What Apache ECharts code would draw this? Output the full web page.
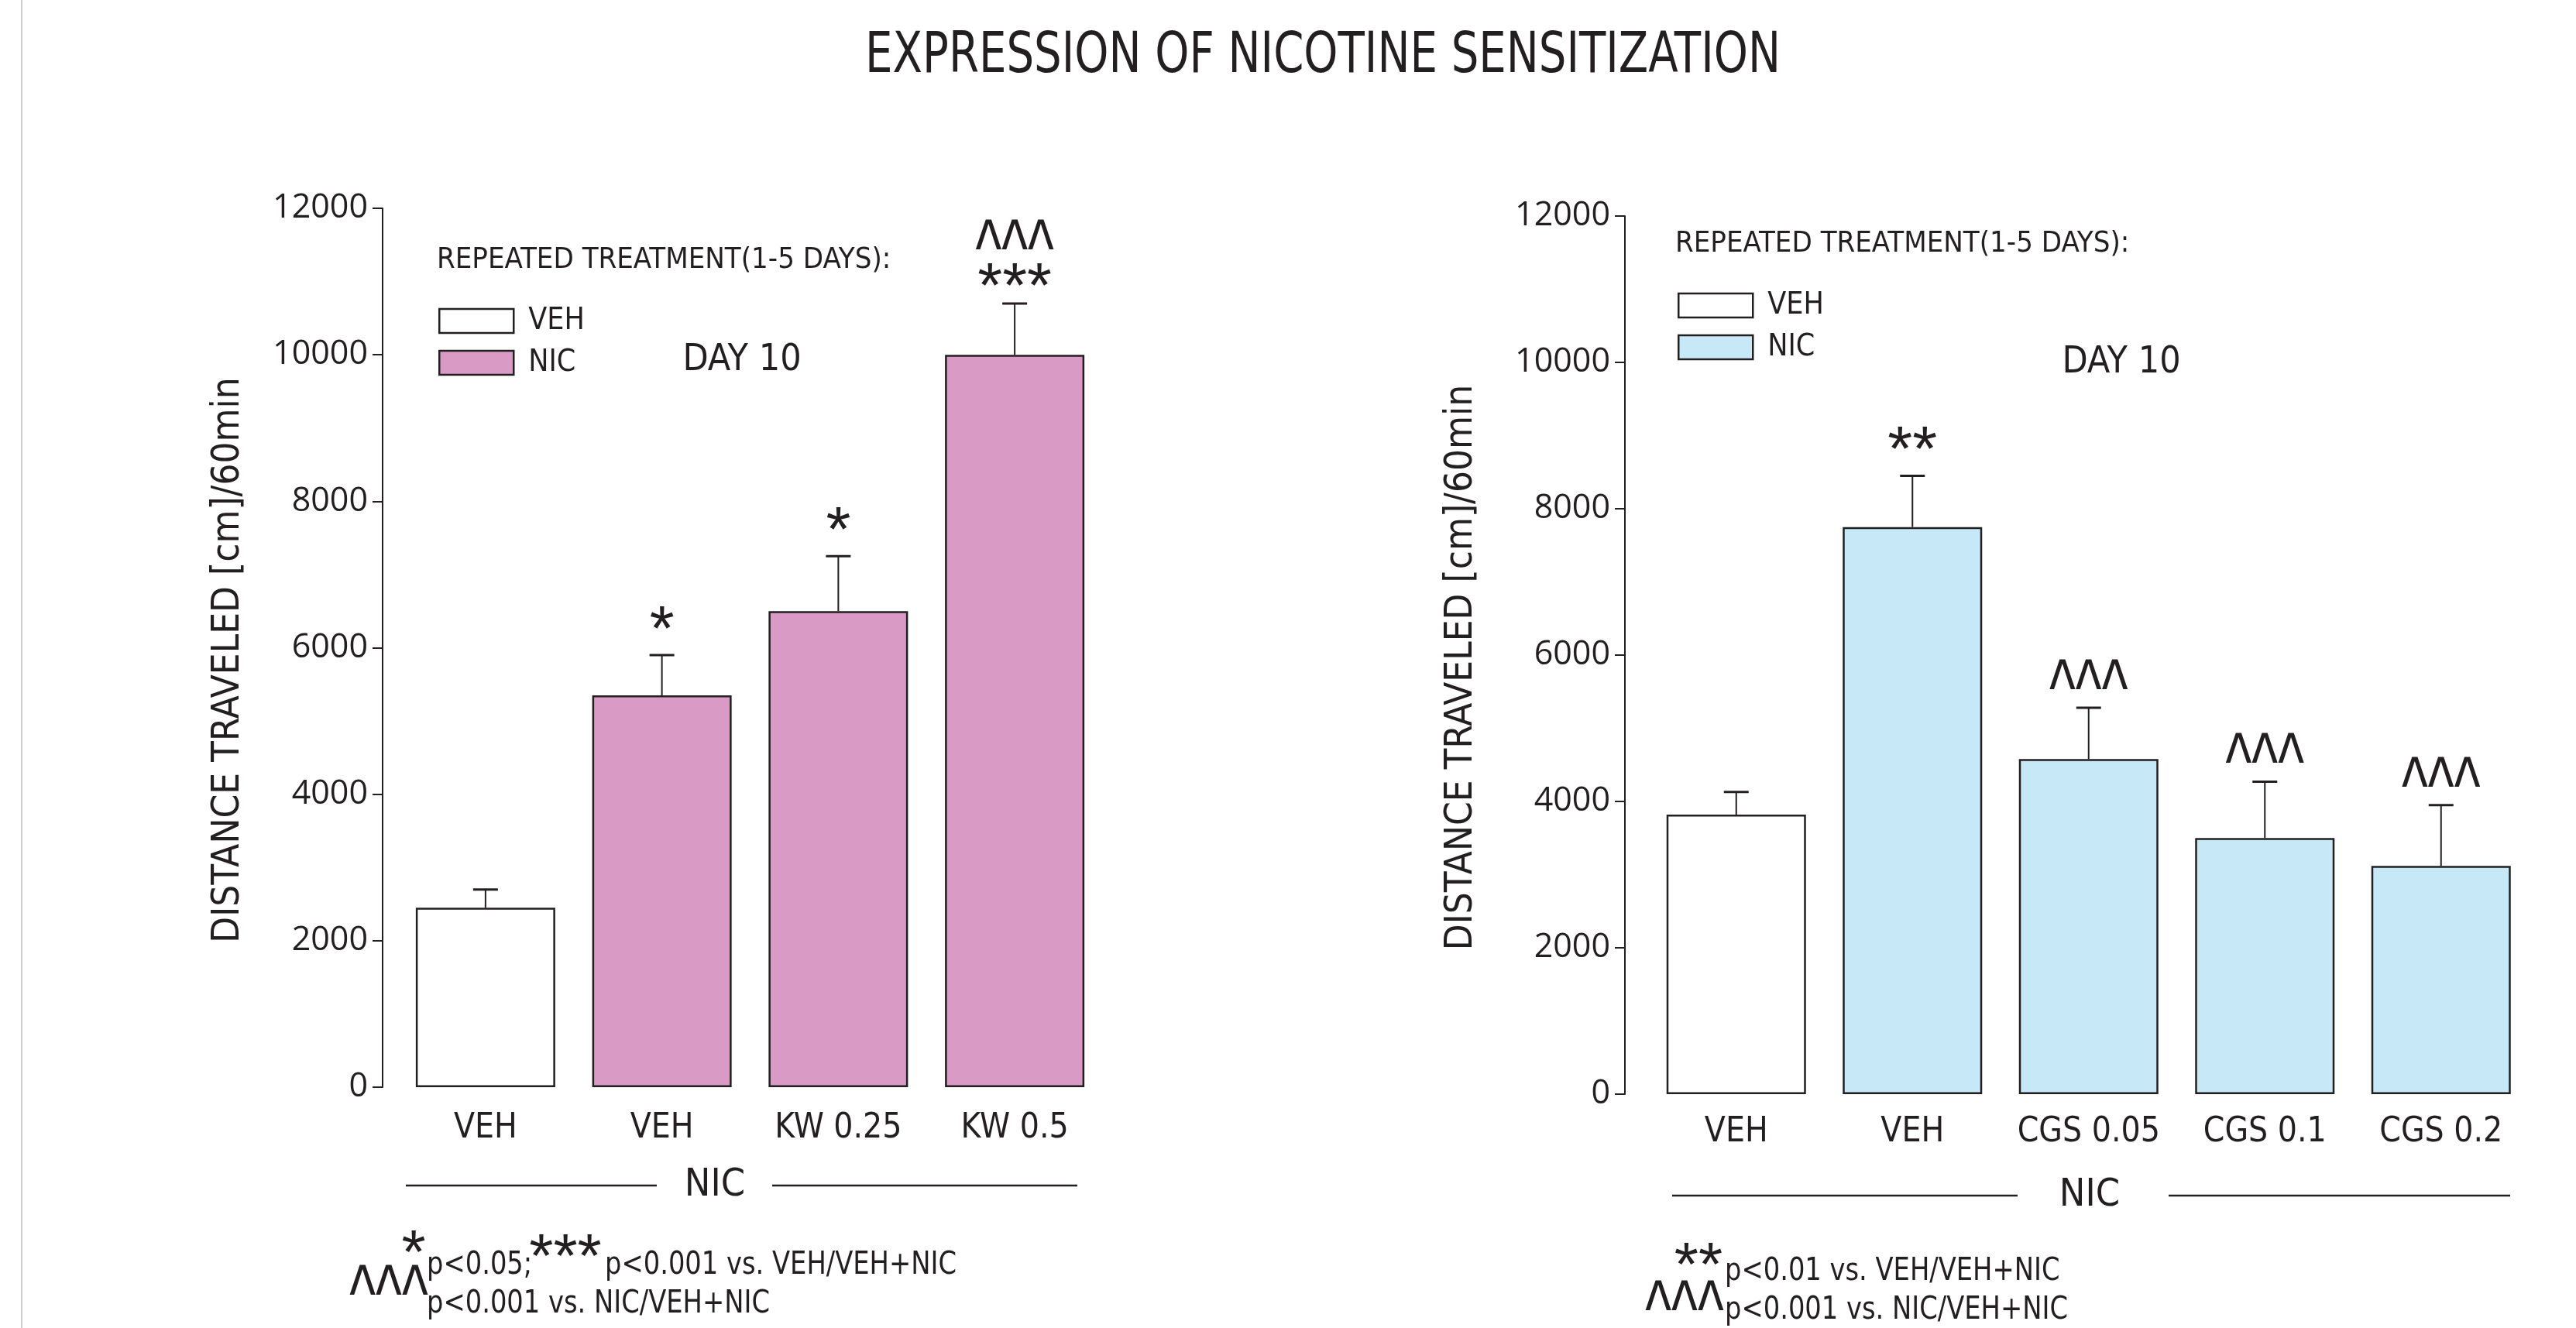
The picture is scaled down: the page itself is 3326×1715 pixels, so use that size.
<!DOCTYPE html>
<html>
<head>
<meta charset="utf-8">
<script src="https://cdn.jsdelivr.net/npm/echarts@6/dist/echarts.min.js"></script>
<style>
html,body{margin:0;padding:0;background:#fff;}
#chart{width:3326px;height:1715px;}
</style>
</head>
<body>
<div id="chart"></div>
<script>
// ---------- data ----------
const categoriesLeft = ['VEH', 'VEH', 'KW 0.25', 'KW 0.5'];
const pretreatLeft   = ['VEH', 'NIC', 'NIC', 'NIC'];
const meansLeft      = [2450, 5350, 6500, 10000];
const semLeft        = [250, 550, 750, 700];
const starsLeft      = ['', '*', '*', '***'];
const caretsLeft     = ['', '', '', '^^^'];

const categoriesRight = ['VEH', 'VEH', 'CGS 0.05', 'CGS 0.1', 'CGS 0.2'];
const pretreatRight   = ['VEH', 'NIC', 'NIC', 'NIC', 'NIC'];
const meansRight      = [3820, 7750, 4580, 3500, 3120];
const semRight        = [310, 700, 700, 770, 830];
const starsRight      = ['', '**', '', '', ''];
const caretsRight     = ['', '', '^^^', '^^^', '^^^'];

const yMin = 0, yMax = 12000, yInterval = 2000;
const yTitle = 'DISTANCE TRAVELED [cm]/60min';
const mainTitle = 'EXPRESSION OF NICOTINE SENSITIZATION';
const legendTitle = 'REPEATED TREATMENT(1-5 DAYS):';
const dayLabel = 'DAY 10';
const groupLabel = 'NIC';
const footLeft = ['*', 'p<0.05;', '***', 'p<0.001 vs. VEH/VEH+NIC', '^^^', 'p<0.001 vs. NIC/VEH+NIC'];
const footRight = ['**', 'p<0.01 vs. VEH/VEH+NIC', '^^^', 'p<0.001 vs. NIC/VEH+NIC'];

// ---------- style ----------
const INK = '#231f20';
const PINK = '#d99bc6';
const BLUE = '#c7e9f7';
const COND = "'DejaVu Sans Condensed','DejaVu Sans',sans-serif";
const REG = "'Open Sans','Noto Sans',sans-serif";
const STAR = "'Liberation Sans','DejaVu Sans',sans-serif";
const CARET_SIZE = 72, CARET_SY = 1.5;

const chart = echarts.init(document.getElementById('chart'), null, {renderer: 'canvas'});

function pick(means, groups, g) {
  return means.map((v, i) => groups[i] === g ? v : '-');
}

function starText(text, x, cy) {
  return {type: 'text', x: x, y: cy + 12, silent: true,
    style: {text: text, x: 0, y: 0, align: 'center', verticalAlign: 'middle', fontSize: 82, fontFamily: STAR, fill: INK}};
}
function caretText(text, x, cy) {
  return {type: 'text', x: x, y: cy + 19, scaleY: CARET_SY, silent: true,
    style: {text: text, x: 0, y: 0, align: 'center', verticalAlign: 'middle', fontSize: CARET_SIZE, fontFamily: STAR, fill: INK}};
}

function errRenderer(stars, carets) {
  return function (params, api) {
    const i = api.value(0), m = api.value(1), e = api.value(2);
    const p0 = api.coord([i, m]);
    const p1 = api.coord([i, m + e]);
    const x = p0[0];
    const children = [
      {type: 'line', shape: {x1: x, y1: p0[1], x2: x, y2: p1[1]}, style: {stroke: INK, lineWidth: 2}},
      {type: 'line', shape: {x1: x - 16, y1: p1[1], x2: x + 16, y2: p1[1]}, style: {stroke: INK, lineWidth: 3}}
    ];
    const s = stars[params.dataIndex], c = carets[params.dataIndex];
    const top = p1[1];
    let sc = null;
    if (s) {
      sc = c ? top - 31 : top - 42;
      children.push(starText(s, x, sc));
    }
    if (c) {
      children.push(caretText(c, x, sc !== null ? sc - 53 : top - 38));
    }
    return {type: 'group', children: children};
  };
}

function yAxisCfg(gridIndex, offset, nameGap) {
  return {
    type: 'value', gridIndex: gridIndex, min: yMin, max: yMax, interval: yInterval, offset: offset,
    name: yTitle, nameLocation: 'middle', nameGap: nameGap, nameRotate: 90,
    nameTextStyle: {fontFamily: COND, fontSize: 49, color: INK, padding: [0, 32, 0, 0]},
    axisLine: {show: true, lineStyle: {color: INK, width: 2}},
    axisTick: {show: true, length: 13, lineStyle: {color: INK, width: 2}},
    axisLabel: {fontFamily: REG, fontSize: 43, color: INK, margin: 19, formatter: v => String(v)},
    splitLine: {show: false}
  };
}

function xAxisCfg(gridIndex, cats, margin) {
  return {
    type: 'category', gridIndex: gridIndex, data: cats,
    axisLine: {show: false}, axisTick: {show: false},
    axisLabel: {fontFamily: COND, fontSize: 44, color: INK, margin: margin, interval: 0}
  };
}

function barSeries(name, data, color, idx) {
  return {
    type: 'bar', name: name, xAxisIndex: idx, yAxisIndex: idx, data: data,
    barWidth: 180, barGap: '-100%',
    itemStyle: {color: color, borderColor: INK, borderWidth: 2.5},
    emphasis: {disabled: true}, z: 2
  };
}

function legendCfg(left, top, nicColor) {
  return {
    orient: 'vertical', left: left, top: top, padding: 0, itemWidth: 96, itemHeight: 31, itemGap: 15,
    icon: 'rect', selectedMode: false,
    textStyle: {fontFamily: COND, fontSize: 39, color: INK, padding: [0, 0, 0, 14]},
    data: [
      {name: 'VEH', itemStyle: {color: '#ffffff', borderColor: INK, borderWidth: 2.5}},
      {name: 'NIC', itemStyle: {color: nicColor, borderColor: INK, borderWidth: 2.5}}
    ]
  };
}

function txt(text, x, y, size, family, align, sx) {
  return {type: 'text', x: x, y: y, scaleX: sx || 1, silent: true,
    style: {text: text, x: 0, y: 0, fontSize: size, fontFamily: family, fill: INK, align: align || 'left', verticalAlign: 'middle'}};
}
function hline(x1, x2, y) {
  return {type: 'line', silent: true, shape: {x1: x1, y1: y, x2: x2, y2: y}, style: {stroke: INK, lineWidth: 2.5}};
}

const FN = 41, FNX = 0.915;

const option = {
  backgroundColor: '#ffffff',
  animation: false,
  grid: [
    {left: 513, width: 911, top: 269, height: 1135},
    {left: 2128, width: 1137.5, top: 279, height: 1134}
  ],
  xAxis: [xAxisCfg(0, categoriesLeft, 32), xAxisCfg(1, categoriesRight, 28)],
  yAxis: [yAxisCfg(0, 19, 174), yAxisCfg(1, 30, 186)],
  legend: [legendCfg(566, 395, PINK), legendCfg(2166, 375, BLUE)],
  series: [
    barSeries('VEH', pick(meansLeft, pretreatLeft, 'VEH'), '#ffffff', 0),
    barSeries('NIC', pick(meansLeft, pretreatLeft, 'NIC'), PINK, 0),
    {type: 'custom', xAxisIndex: 0, yAxisIndex: 0, z: 5, clip: false,
     renderItem: errRenderer(starsLeft, caretsLeft),
     data: meansLeft.map((m, i) => [i, m, semLeft[i]])},
    barSeries('VEH', pick(meansRight, pretreatRight, 'VEH'), '#ffffff', 1),
    barSeries('NIC', pick(meansRight, pretreatRight, 'NIC'), BLUE, 1),
    {type: 'custom', xAxisIndex: 1, yAxisIndex: 1, z: 5, clip: false,
     renderItem: errRenderer(starsRight, caretsRight),
     data: meansRight.map((m, i) => [i, m, semRight[i]])}
  ],
  graphic: [
    {type: 'line', silent: true, shape: {x1: 28, y1: 0, x2: 28, y2: 1715}, style: {stroke: '#cfcfcf', lineWidth: 2}},
    txt(mainTitle, 1708, 74, 73, COND, 'center', 0.855),
    txt(legendTitle, 564, 336, 38, COND),
    txt(legendTitle, 2163, 315, 38, COND),
    txt(dayLabel, 958, 466, 48, COND, 'center'),
    txt(dayLabel, 2739, 469, 48, COND, 'center'),
    hline(524, 848, 1531), txt(groupLabel, 923, 1531, 50, COND, 'center'), hline(997, 1391, 1531),
    hline(2159, 2605, 1544), txt(groupLabel, 2698, 1544, 50, COND, 'center'), hline(2800, 3241, 1544),
    // left footnote
    txt(footLeft[0], 534, 1622, 80, STAR, 'center'),
    txt(footLeft[1], 551, 1634, FN, COND, 'left', FNX),
    txt(footLeft[2], 730, 1627, 80, STAR, 'center'),
    txt(footLeft[3], 781, 1634, FN, COND, 'left', FNX),
    caretText(footLeft[4], 502, 1658),
    txt(footLeft[5], 551, 1684, FN, COND, 'left', FNX),
    // right footnote
    txt(footRight[0], 2193, 1638, 80, STAR, 'center'),
    txt(footRight[1], 2227, 1642, FN, COND, 'left', FNX),
    caretText(footRight[2], 2175, 1678),
    txt(footRight[3], 2227, 1692, FN, COND, 'left', FNX)
  ]
};
chart.setOption(option);
</script>
</body>
</html>
